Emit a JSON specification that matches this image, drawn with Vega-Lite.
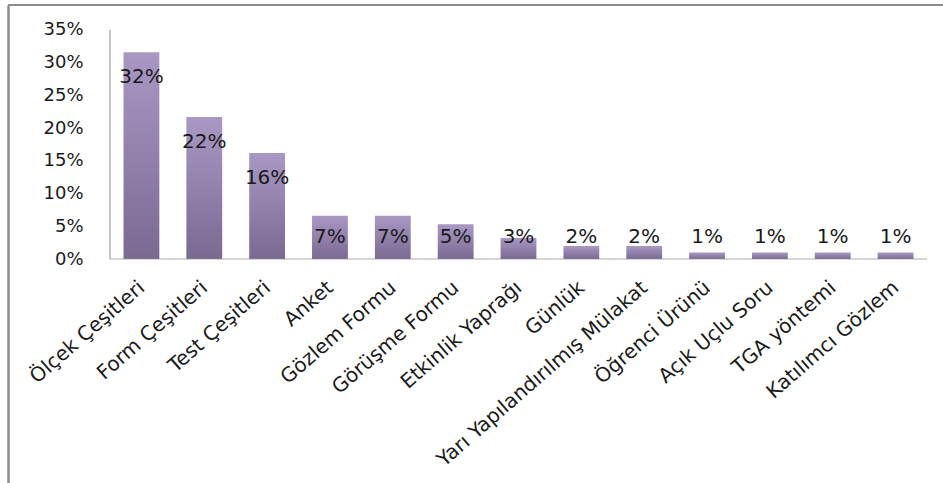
{
  "$schema": "https://vega.github.io/schema/vega-lite/v6.json",
  "width": 935,
  "height": 478,
  "autosize": {"type": "none"},
  "padding": {"left": 8, "top": 5, "right": 0, "bottom": 0},
  "background": "white",
  "config": {"view": {"stroke": null}, "font": "DejaVu Sans"},
  "data": {
    "values": [
      {"cat": "Ölçek Çeşitleri", "v": 0.316},
      {"cat": "Form Çeşitleri", "v": 0.217},
      {"cat": "Test Çeşitleri", "v": 0.162},
      {"cat": "Anket", "v": 0.066},
      {"cat": "Gözlem Formu", "v": 0.066},
      {"cat": "Görüşme Formu", "v": 0.053},
      {"cat": "Etkinlik Yaprağı", "v": 0.032},
      {"cat": "Günlük", "v": 0.02},
      {"cat": "Yarı Yapılandırılmış Mülakat", "v": 0.02},
      {"cat": "Öğrenci Ürünü", "v": 0.01},
      {"cat": "Açık Uçlu Soru", "v": 0.01},
      {"cat": "TGA yöntemi", "v": 0.01},
      {"cat": "Katılımcı Gözlem", "v": 0.01}
    ]
  },
  "layer": [
    {
      "mark": {
        "type": "bar",
        "color": {
          "gradient": "linear",
          "x1": 0, "y1": 0, "x2": 0, "y2": 1,
          "stops": [
            {"offset": 0, "color": "#A998C4"},
            {"offset": 1, "color": "#7A6A92"}
          ]
        }
      },
      "encoding": {
        "x": {
          "field": "cat",
          "type": "nominal",
          "title": null,
          "scale": {
            "domain": ["Ölçek Çeşitleri", "Form Çeşitleri", "Test Çeşitleri", "Anket", "Gözlem Formu", "Görüşme Formu", "Etkinlik Yaprağı", "Günlük", "Yarı Yapılandırılmış Mülakat", "Öğrenci Ürünü", "Açık Uçlu Soru", "TGA yöntemi", "Katılımcı Gözlem"],
            "range": [102, 919],
            "paddingInner": 0.43,
            "paddingOuter": 0.215,
            "align": 0.5
          },
          "axis": {
            "orient": "bottom",
            "offset": -224,
            "domain": false,
            "ticks": false,
            "tickSize": 0,
            "labelAngle": -41,
            "labelAlign": "right",
            "labelBaseline": "top",
            "labelPadding": 18,
            "labelOffset": -6,
            "labelFont": "DejaVu Sans",
            "labelFontSize": 20,
            "labelColor": "#1a1a1a",
            "labelLimit": 400
          }
        },
        "y": {
          "field": "v",
          "type": "quantitative",
          "title": null,
          "scale": {"domain": [-0.3423, 0.3882], "nice": false, "zero": false},
          "axis": {
            "orient": "left",
            "offset": 0,
            "domain": true,
            "domainColor": "#8c8c8c",
            "domainWidth": 2.5,
            "ticks": false,
            "tickSize": 0,
            "grid": false,
            "values": [0, 0.05, 0.1, 0.15, 0.2, 0.25, 0.3, 0.35],
            "format": ".0%",
            "labelPadding": -75,
            "labelAlign": "right",
            "labelBaseline": "middle",
            "labelFont": "DejaVu Sans",
            "labelFontSize": 18,
            "labelColor": "#1a1a1a"
          }
        }
      }
    },
    {
      "data": {"values": [{}]},
      "mark": {"type": "rule", "color": "#8c8c8c", "strokeWidth": 2},
      "encoding": {"y": {"datum": 0.3882, "type": "quantitative", "title": null}}
    },
    {
      "mark": {"type": "tick", "orient": "horizontal", "size": 63, "thickness": 1, "color": "#8c8c8c"},
      "encoding": {
        "x": {"field": "cat", "type": "nominal", "title": null},
        "y": {"datum": 0, "type": "quantitative", "title": null}
      }
    },
    {
      "data": {"values": [{}]},
      "mark": {"type": "rule", "color": "#8c8c8c", "strokeWidth": 1},
      "encoding": {
        "x": {"datum": "Ölçek Çeşitleri", "type": "nominal", "bandPosition": -0.377, "title": null},
        "y": {"datum": 0, "type": "quantitative", "title": null},
        "y2": {"datum": 0.35}
      }
    },
    {
      "mark": {
        "type": "text",
        "font": "DejaVu Sans",
        "fontSize": 20,
        "color": "#1a1a1a",
        "baseline": "alphabetic",
        "align": "center",
        "dy": {"expr": "min(31, scale('y', 0) - 16 - scale('y', datum.v))"}
      },
      "encoding": {
        "x": {"field": "cat", "type": "nominal", "title": null},
        "y": {"field": "v", "type": "quantitative", "title": null},
        "text": {"field": "v", "type": "quantitative", "format": ".0%"}
      }
    }
  ]
}
